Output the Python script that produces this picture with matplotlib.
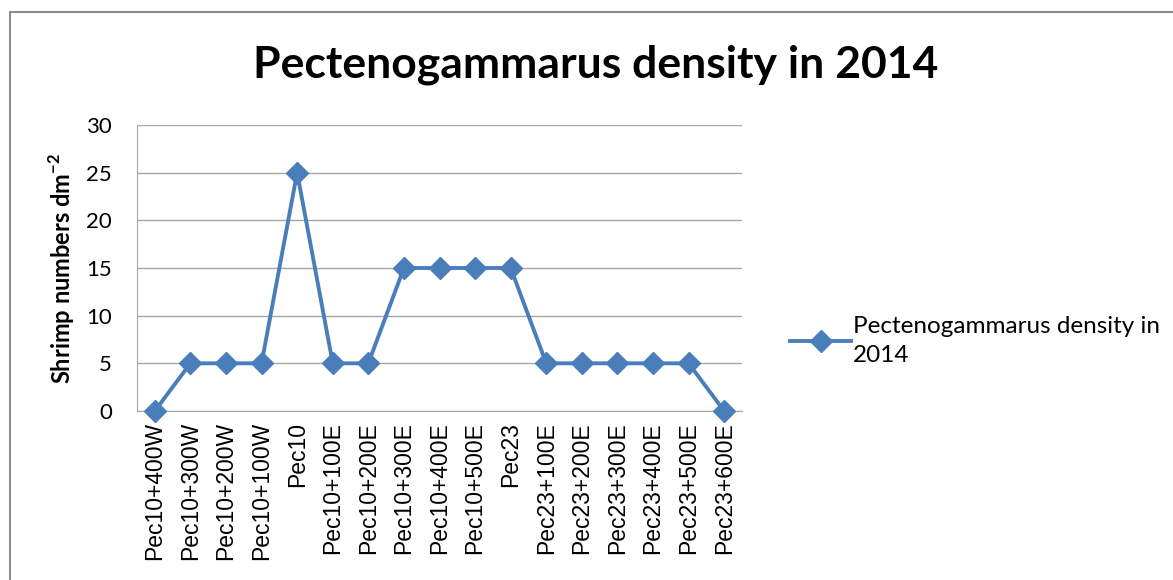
import matplotlib.pyplot as plt
from matplotlib.patches import Rectangle

# dane
stations = ['Pec10+400W', 'Pec10+300W', 'Pec10+200W', 'Pec10+100W', 'Pec10',
            'Pec10+100E', 'Pec10+200E', 'Pec10+300E', 'Pec10+400E', 'Pec10+500E',
            'Pec23', 'Pec23+100E', 'Pec23+200E', 'Pec23+300E', 'Pec23+400E',
            'Pec23+500E', 'Pec23+600E']
density = [0, 5, 5, 5, 25, 5, 5, 15, 15, 15, 15, 5, 5, 5, 5, 5, 0]
yticks = [0, 5, 10, 15, 20, 25, 30]

blue = '#4A7EBB'
grey = '#A6A6A6'

fig = plt.figure(figsize=(11.73, 5.80), dpi=100)
ax = fig.add_axes([137 / 1173, 1 - 411 / 580, 605 / 1173, 286 / 580])

# ramka wokół całego wykresu
fig.patches.append(Rectangle((10 / 1173, -0.1), 1.2, 1 - 12 / 580 + 0.1,
                             transform=fig.transFigure, fill=False,
                             edgecolor='#8C8C8C', linewidth=1.5))

x = list(range(len(stations)))
ax.plot(x, density, color=blue, lw=2.8, marker='D', markersize=11.5,
        label='Pectenogammarus density in\n2014', clip_on=False, zorder=3)

ax.set_xlim(-0.5, len(stations) - 0.5)
ax.set_ylim(0, 30)
ax.set_yticks(yticks)
ax.set_yticklabels([str(v) for v in yticks], family='Lato', fontsize=16)
ax.set_xticks(x)
ax.set_xticklabels(stations, rotation=90, family='Liberation Sans', fontsize=16.5)
ax.tick_params(length=0, pad=8)
ax.tick_params(axis='y', pad=18)

ax.grid(axis='y', color=grey, lw=1)
ax.set_axisbelow(True)
for s in ['top', 'right']:
    ax.spines[s].set_visible(False)
ax.spines['left'].set_color(grey)
ax.spines['bottom'].set_color(grey)

fig.text(596 / 1173, 1 - 65 / 580, 'Pectenogammarus density in 2014',
         ha='center', va='center', family='Lato', fontweight='bold', fontsize=32)
fig.text(62 / 1173, 1 - 268 / 580, r'Shrimp numbers dm$^{\mathregular{-2}}$',
         rotation=90, ha='center', va='center', family='Lato',
         fontweight='bold', fontsize=17)

leg = ax.legend(loc='center left', bbox_to_anchor=(778 / 1173, 1 - 341 / 580),
                bbox_transform=fig.transFigure, frameon=False,
                prop={'family': 'Lato', 'size': 17.5}, handlelength=2.5,
                handletextpad=0.1, borderpad=0)
for t in leg.get_texts():
    t.set_linespacing(1.45)

fig.savefig('out.png', dpi=100)
